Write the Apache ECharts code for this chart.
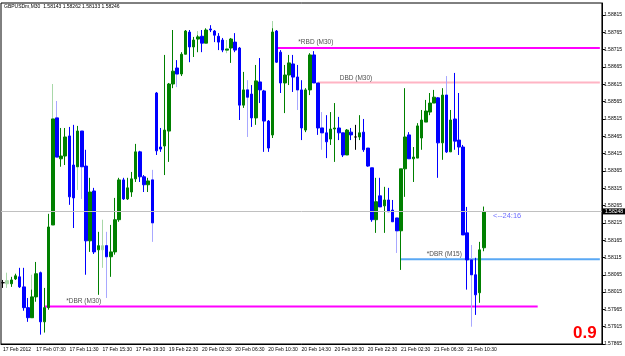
<!DOCTYPE html>
<html style="height: 100%">
<head>
    <meta charset="utf-8">
</head>
<body style="height: 100%; margin: 0; background: #fff">
<div id="container" style="width: 625px; height: 356px"></div>
<script src="https://cdn.jsdelivr.net/npm/echarts@6/dist/echarts.min.js"></script>
<script type="text/javascript">
    // GBPUSDm M30, 17-21 Feb 2012
    var symbol = 'GBPUSDm,M30';
    var base = 1.57865;          // lowest label on the price scale
    var slots = 145;             // bar slots visible in the window
    var tickLabels = ['17 Feb 2012', '17 Feb 07:30', '17 Feb 11:30', '17 Feb 15:30', '17 Feb 19:30',
        '19 Feb 22:30', '20 Feb 02:30', '20 Feb 06:30', '20 Feb 10:30', '20 Feb 14:30', '20 Feb 18:30',
        '20 Feb 22:30', '21 Feb 02:30', '21 Feb 06:30', '21 Feb 10:30'];

    var opens = [1.58042, null, 1.58039, 1.58053, 1.58059, 1.58030, 1.57970, 1.57941, 1.58001, 1.58071,
        1.57929, 1.57970, 1.58209, 1.58518, 1.58400, 1.58408, 1.58466, 1.58382, 1.58377, 1.58480,
        1.58379, 1.58163, 1.58307, 1.58137, null, 1.58149, 1.58117, 1.58131, 1.58224, 1.58339,
        1.58284, 1.58304, 1.58342, 1.58420, 1.58348, 1.58325, 1.58339, 1.58590, 1.58434, 1.58437,
        1.58480, 1.58616, 1.58662, 1.58645, 1.58702, 1.58766, 1.58723, 1.58746, 1.58754, 1.58734,
        1.58775, 1.58769, 1.58754, 1.58743, 1.58714, 1.58720, 1.58737, 1.58720, 1.58555, 1.58599,
        1.58587, 1.58518, 1.58622, 1.58596, 1.58509, 1.58469, 1.58769, 1.58708, 1.58619, 1.58642,
        1.58674, 1.58636, 1.58599, 1.58483, 1.58599, 1.58700, 1.58619, 1.58489, 1.58475, 1.58457,
        1.58486, 1.58489, 1.58475, 1.58411, 1.58477, 1.58463, 1.58463, 1.58477, 1.58431, 1.58374,
        1.58224, 1.58293, 1.58264, 1.58281, 1.58252, 1.58229, 1.58192, 1.58371, 1.58469, 1.58400,
        1.58402, 1.58460, 1.58506, 1.58535, 1.58561, 1.58576, 1.58446, 1.58584, 1.58420, 1.58515,
        1.58454, 1.58434, 1.58186, 1.58108, 1.58065, 1.58013, 1.58143];
    var closes = [1.58042, null, 1.58050, 1.58062, 1.58030, 1.57970, 1.57941, 1.58001, 1.58068, 1.57929,
        1.57970, 1.58203, 1.58515, 1.58405, 1.58408, 1.58463, 1.58290, 1.58287, 1.58480, 1.58377,
        1.58163, 1.58304, 1.58131, 1.58149, null, 1.58117, 1.58131, 1.58224, 1.58339, 1.58284,
        1.58316, 1.58342, 1.58420, 1.58348, 1.58325, 1.58336, 1.58215, 1.58423, 1.58428, 1.58483,
        1.58616, 1.58653, 1.58645, 1.58702, 1.58769, 1.58723, 1.58743, 1.58752, 1.58734, 1.58772,
        1.58772, 1.58757, 1.58737, 1.58714, 1.58717, 1.58746, 1.58714, 1.58555, 1.58599, 1.58578,
        1.58518, 1.58625, 1.58599, 1.58509, 1.58431, 1.58766, 1.58679, 1.58619, 1.58642, 1.58677,
        1.58636, 1.58599, 1.58489, 1.58599, 1.58700, 1.58619, 1.58489, 1.58475, 1.58449, 1.58486,
        1.58489, 1.58475, 1.58411, 1.58483, 1.58469, 1.58463, 1.58475, 1.58426, 1.58379, 1.58224,
        1.58276, 1.58261, 1.58281, 1.58247, 1.58218, 1.58192, 1.58371, 1.58463, 1.58400, 1.58405,
        1.58495, 1.58512, 1.58538, 1.58561, 1.58578, 1.58446, 1.58584, 1.58420, 1.58512, 1.58451,
        1.58434, 1.58180, 1.58108, 1.58065, 1.58007, 1.58137, 1.58246];
    var lows = [1.58027, null, 1.58030, 1.58050, 1.58027, 1.57961, 1.57929, 1.57941, 1.57987, 1.57892,
        1.57898, 1.57964, 1.58209, 1.58405, 1.58377, 1.58382, 1.58267, 1.58200, 1.58377, 1.58377,
        1.58065, 1.58131, 1.58125, 1.58007, null, 1.58117, 1.58059, 1.58123, 1.58218, 1.58281,
        1.58281, 1.58290, 1.58333, 1.58333, 1.58304, 1.58304, 1.58215, 1.58411, 1.58420, 1.58353,
        1.58391, 1.58604, 1.58645, 1.58639, 1.58702, 1.58679, 1.58694, 1.58708, 1.58708, 1.58734,
        1.58766, 1.58737, 1.58714, 1.58708, 1.58714, 1.58677, 1.58708, 1.58512, 1.58547, 1.58578,
        1.58492, 1.58498, 1.58561, 1.58420, 1.58420, 1.58460, 1.58677, 1.58590, 1.58532, 1.58613,
        1.58593, 1.58599, 1.58454, 1.58477, 1.58584, 1.58619, 1.58469, 1.58475, 1.58402, 1.58440,
        1.58391, 1.58454, 1.58405, 1.58411, 1.58454, 1.58426, 1.58454, 1.58420, 1.58377, 1.58218,
        1.58186, 1.58261, 1.58186, 1.58247, 1.58218, 1.58192, 1.58079, 1.58290, 1.58400, 1.58333,
        1.58402, 1.58426, 1.58506, 1.58526, 1.58561, 1.58345, 1.58397, 1.58417, 1.58420, 1.58426,
        1.58411, 1.58180, 1.58022, 1.58065, 1.57949, 1.57984, 1.58133];
    var highs = [1.58050, null, 1.58059, 1.58068, 1.58085, 1.58085, 1.57998, 1.58022, 1.58102, 1.58074,
        1.58027, 1.58241, 1.58515, 1.58518, 1.58489, 1.58489, 1.58492, 1.58498, 1.58495, 1.58480,
        1.58426, 1.58345, 1.58316, 1.58189, null, 1.58149, 1.58209, 1.58287, 1.58345, 1.58345,
        1.58345, 1.58362, 1.58443, 1.58423, 1.58353, 1.58345, 1.58339, 1.58593, 1.58489, 1.58700,
        1.58619, 1.58772, 1.58685, 1.58708, 1.58772, 1.58772, 1.58752, 1.58757, 1.58772, 1.58777,
        1.58786, 1.58772, 1.58763, 1.58749, 1.58717, 1.58749, 1.58763, 1.58723, 1.58651, 1.58599,
        1.58613, 1.58671, 1.58691, 1.58599, 1.58512, 1.58777, 1.58772, 1.58714, 1.58671, 1.58700,
        1.58700, 1.58671, 1.58627, 1.58604, 1.58705, 1.58711, 1.58619, 1.58489, 1.58526, 1.58535,
        1.58561, 1.58521, 1.58475, 1.58486, 1.58489, 1.58498, 1.58526, 1.58515, 1.58431, 1.58374,
        1.58345, 1.58345, 1.58319, 1.58316, 1.58281, 1.58229, 1.58371, 1.58604, 1.58477, 1.58434,
        1.58503, 1.58541, 1.58570, 1.58590, 1.58599, 1.58578, 1.58604, 1.58584, 1.58541, 1.58648,
        1.58590, 1.58440, 1.58261, 1.58108, 1.58114, 1.58160, 1.58262];

    // faint (overlay) candles: [bar, open, close, low, high]
    var ghostBars = [
        [1, 1.58039, 1.58048, 1.58027, 1.58071],
        [7, 1.57941, 1.58001, 1.57941, 1.58065],
        [12, 1.58209, 1.58515, 1.58209, 1.58616],
        [13, 1.58518, 1.58405, 1.58405, 1.58567],
        [18, 1.58377, 1.58480, 1.58310, 1.58480],
        [19, 1.58480, 1.58377, 1.58284, 1.58480],
        [24, 1.58137, 1.58149, 1.58085, 1.58224],
        [25, 1.58149, 1.58117, 1.57998, 1.58189],
        [36, 1.58339, 1.58215, 1.58160, 1.58368],
        [42, 1.58662, 1.58645, 1.58607, 1.58662],
        [47, 1.58746, 1.58752, 1.58708, 1.58769],
        [54, 1.58714, 1.58717, 1.58705, 1.58743],
        [59, 1.58599, 1.58578, 1.58463, 1.58627],
        [65, 1.58469, 1.58766, 1.58460, 1.58798],
        [71, 1.58636, 1.58599, 1.58541, 1.58671],
        [77, 1.58489, 1.58475, 1.58426, 1.58535],
        [95, 1.58229, 1.58192, 1.58128, 1.58229],
        [107, 1.58584, 1.58420, 1.58417, 1.58639],
        [113, 1.58108, 1.58065, 1.57915, 1.58151]
    ];

    // supply / demand levels: [name, from bar, to bar, price]
    var levels = [
        ['*RBD (M30)', 66, 144, 1.58720],
        ['DBD (M30)', 76, 144, 1.58620],
        ['*DBR (M15)', 96, 144, 1.58110],
        ['*DBR (M30)', 10, 129, 1.57973]
    ];
    // text objects: [text, bar, price]
    var notes = [
        ['*RBD (M30)', 71, 1.58736],
        ['DBD (M30)', 81, 1.58632],
        ['*DBR (M15)', 102, 1.58124],
        ['*DBR (M30)', 15, 1.57989]
    ];
    var bidPrice = 1.58248;
    var timer = ['<--24:16', 118, 1.58235];
    var signal = '0.9';

    var font = 'Liberation Sans';
    var levelColors = ['#ff00ff', '#ffb4c4', '#5aa8f4', '#ff00ff'];

    function toY(p) { return (p - base) * 1e5; }
    function fmt(v) { return (base + v / 1e5).toFixed(5); }

    var categories = [];
    for (var i = 0; i < slots; i++) {
        categories.push(i % 8 === 0 && tickLabels[i / 8] ? tickLabels[i / 8] : '');
    }
    function showTick(index, value) { return categories[index] !== ''; }

    var mainData = opens.map(function (o, i) {
        if (o === null) return '-';
        return [toY(o), toY(closes[i]), toY(lows[i]), toY(highs[i])];
    });
    var ghostData = opens.map(function () { return '-'; });
    ghostBars.forEach(function (g) {
        ghostData[g[0]] = [toY(g[1]), toY(g[2]), toY(g[3]), toY(g[4])];
    });

    var last = opens.length - 1;
    var header = symbol + '  ' + opens[last].toFixed(5) + ' ' + highs[last].toFixed(5) + ' ' +
        lows[last].toFixed(5) + ' ' + closes[last].toFixed(5);

    var series = [];
    levels.forEach(function (lv, k) {
        series.push({
            type: 'line', silent: true, symbol: 'none', z: 1,
            data: [[lv[1], toY(lv[3])], [lv[2], toY(lv[3])]],
            lineStyle: {color: levelColors[k], width: 2}
        });
    });
    series.push({
        type: 'candlestick', z: 2, barWidth: 3,
        data: ghostData,
        itemStyle: {color: '#a8d8a8', color0: '#a8a8ff', borderColor: '#a8d8a8', borderColor0: '#a8a8ff', borderWidth: 1},
        markLine: {
            silent: true, symbol: 'none',
            data: [{yAxis: toY(bidPrice)}],
            lineStyle: {color: '#c0c0c0', width: 1, type: 'solid'},
            label: {position: 'end', distance: 1, formatter: bidPrice.toFixed(5), backgroundColor: '#000',
                color: '#fff', fontSize: 5, fontFamily: font, padding: [1, 2, 0, 2]}
        }
    });
    series.push({
        type: 'candlestick', z: 3, barWidth: 3,
        data: mainData,
        itemStyle: {color: '#008000', color0: '#0000ff', borderColor: '#008000', borderColor0: '#0000ff',
            borderColorDoji: '#000', borderWidth: 1}
    });
    series.push({
        type: 'scatter', symbolSize: 0, silent: true, z: 4,
        data: notes.map(function (n) {
            return {value: [n[1], toY(n[2])], label: {formatter: n[0]}};
        }),
        label: {show: true, position: 'right', distance: 1, color: '#222', fontSize: 6.5, fontFamily: font}
    });
    series.push({
        type: 'scatter', symbolSize: 0, silent: true, z: 4,
        data: [{value: [timer[1], toY(timer[2])]}],
        label: {show: true, position: 'right', distance: 1, formatter: timer[0], color: '#4848ff', fontSize: 7.5, fontFamily: font}
    });

    var dom = document.getElementById('container');
    var myChart = echarts.init(dom, null, {renderer: 'canvas'});
    var option = {
        animation: false,
        backgroundColor: '#fff',
        title: [
            {text: header, left: 4, top: 4, padding: 0,
                textStyle: {fontSize: 5, fontWeight: 'normal', color: '#000', fontFamily: font}},
            {text: signal, left: 573, top: 325, padding: 0,
                textStyle: {fontSize: 17, fontWeight: 'bold', color: '#ff0000', fontFamily: font}}
        ],
        grid: {left: 1, right: 22, top: 3, bottom: 12, show: true, borderColor: '#000', borderWidth: 1},
        xAxis: {
            type: 'category', data: categories, boundaryGap: true,
            axisLine: {lineStyle: {color: '#000'}},
            axisTick: {alignWithLabel: true, interval: showTick, length: 4, lineStyle: {color: '#000'}},
            axisLabel: {interval: showTick, align: 'left', margin: 3, fontSize: 5, color: '#000', fontFamily: font},
            splitLine: {show: false}
        },
        yAxis: {
            type: 'value', position: 'right', min: 0, max: 985, interval: 50, scale: true,
            axisLine: {show: true, lineStyle: {color: '#000'}},
            axisTick: {show: true, length: 3, lineStyle: {color: '#000'}},
            axisLabel: {formatter: fmt, showMaxLabel: false, margin: 2, fontSize: 5, color: '#000', fontFamily: font},
            splitLine: {show: false}
        },
        series: series
    };
    myChart.setOption(option);
</script>
</body>
</html>
